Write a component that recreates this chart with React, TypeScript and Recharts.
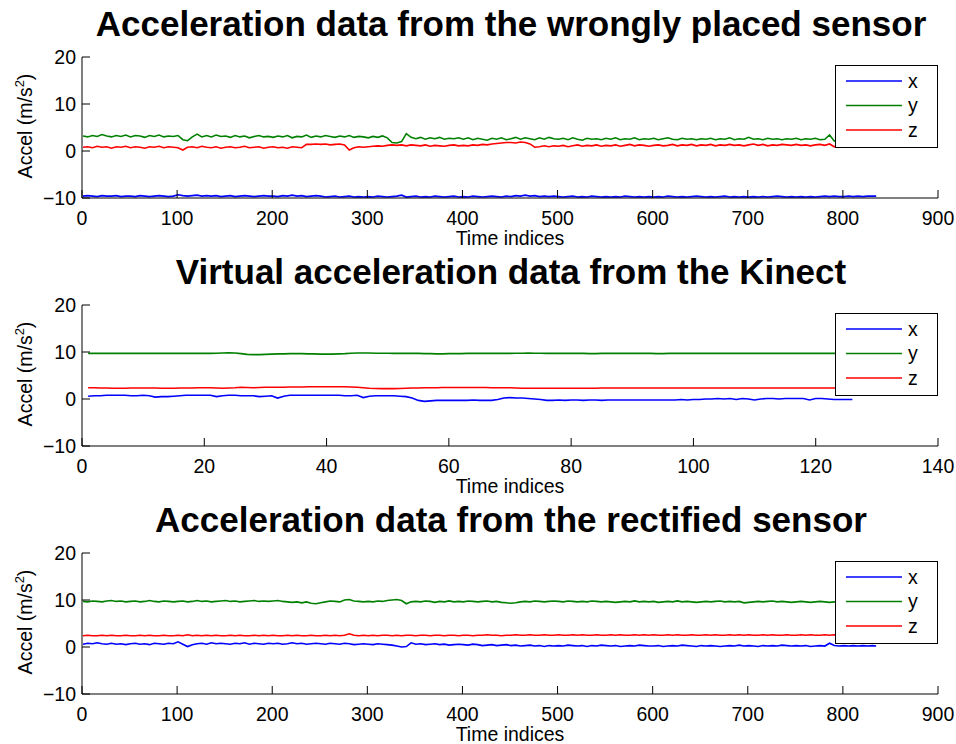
import { LineChart, Line, XAxis, YAxis, Label } from 'recharts';

// ---- panel 1: wrongly placed sensor (indices 1..831, every 5th sample) ----
const wrongX = [
    -9.6, -9.5, -9.6, -9.7, -9.5, -9.6, -9.6, -9.5, -9.7, -9.6,
    -9.6, -9.7, -9.5, -9.6, -9.7, -9.6, -9.5, -9.6, -9.7, -9.6,
    -9.3, -9.5, -9.6, -9.5, -9.4, -9.6, -9.5, -9.6, -9.5, -9.7,
    -9.6, -9.5, -9.7, -9.6, -9.5, -9.6, -9.7, -9.6, -9.5, -9.6,
    -9.6, -9.7, -9.5, -9.6, -9.4, -9.6, -9.5, -9.7, -9.6, -9.5,
    -9.6, -9.8, -9.7, -9.6, -9.8, -9.7, -9.6, -9.8, -9.7, -9.8,
    -9.7, -9.8, -9.6, -9.7, -9.8, -9.7, -9.6, -9.4, -9.8, -9.7,
    -9.6, -9.8, -9.7, -9.8, -9.6, -9.7, -9.8, -9.7, -9.6, -9.8,
    -9.7, -9.8, -9.6, -9.7, -9.8, -9.7, -9.6, -9.7, -9.8, -9.6,
    -9.7, -9.5, -9.6, -9.4, -9.6, -9.5, -9.7, -9.6, -9.7, -9.6,
    -9.7, -9.8, -9.7, -9.6, -9.8, -9.7, -9.8, -9.6, -9.7, -9.8,
    -9.7, -9.8, -9.7, -9.8, -9.6, -9.7, -9.8, -9.7, -9.8, -9.7,
    -9.8, -9.7, -9.8, -9.6, -9.7, -9.8, -9.7, -9.8, -9.7, -9.6,
    -9.7, -9.8, -9.7, -9.8, -9.7, -9.6, -9.8, -9.7, -9.8, -9.7,
    -9.8, -9.7, -9.8, -9.7, -9.8, -9.7, -9.6, -9.7, -9.8, -9.7,
    -9.8, -9.7, -9.8, -9.7, -9.8, -9.7, -9.6, -9.7, -9.6, -9.7,
    -9.7, -9.6, -9.7, -9.6, -9.7, -9.6, -9.6, -9.6,
];
const wrongY = [
    3.2, 3.0, 3.3, 3.1, 3.5, 3.2, 3.0, 3.3, 3.1, 3.4,
    3.0, 3.3, 3.2, 2.9, 3.3, 3.1, 3.4, 3.0, 3.2, 3.1,
    3.3, 2.4, 2.2, 3.0, 3.6, 3.0, 3.3, 3.0, 3.4, 3.1,
    3.2, 2.9, 3.3, 3.0, 3.2, 2.8, 3.1, 3.3, 3.0, 3.1,
    2.9, 3.2, 3.0, 3.3, 2.8, 3.1, 3.0, 3.4, 2.9, 3.2,
    3.0, 3.3, 3.1, 2.9, 3.2, 3.0, 3.3, 2.9, 3.1, 3.0,
    2.8, 3.1, 2.9, 3.2, 2.8, 1.8, 1.7, 2.0, 3.7, 2.9,
    2.6, 2.9, 2.5, 2.8, 2.6, 2.9, 2.5, 2.7, 2.6, 2.8,
    2.5, 2.8, 2.4, 2.7, 2.5, 2.3, 2.7, 2.5, 2.8, 2.4,
    2.6, 2.9, 2.5, 2.8, 2.6, 2.4, 2.8, 2.5, 2.9, 2.6,
    2.5, 2.7, 2.4, 2.8, 2.5, 2.3, 2.7, 2.5, 2.6, 2.4,
    2.7, 2.5, 2.8, 2.4, 2.6, 2.5, 2.8, 2.4, 2.6, 2.5,
    2.7, 2.4, 2.6, 2.8, 2.5, 2.4, 2.7, 2.5, 2.6, 2.4,
    2.6, 2.5, 2.7, 2.4, 2.6, 2.5, 2.8, 2.4, 2.6, 2.5,
    2.9, 2.5, 2.6, 2.4, 2.7, 2.5, 2.6, 2.4, 2.6, 2.5,
    2.7, 2.4, 2.6, 2.5, 2.7, 2.4, 2.5, 3.4, 2.1, 2.4,
    2.6, 2.3, 2.5, 2.4, 2.6, 2.6, 2.5, 2.6,
];
const wrongZ = [
    0.8, 0.9, 0.7, 1.0, 0.8, 0.9, 0.6, 0.9, 0.8, 1.0,
    0.7, 0.9, 0.8, 0.6, 0.9, 0.8, 1.0, 0.7, 0.9, 0.8,
    0.7, 0.2, 0.8, 0.9, 0.7, 1.0, 0.8, 0.7, 0.9, 0.6,
    0.8, 0.9, 0.7, 0.8, 1.0, 0.7, 0.8, 0.9, 0.6, 0.8,
    0.9, 0.7, 0.8, 0.6, 0.9, 0.8, 0.7, 1.4, 1.4, 1.5,
    1.4, 1.5, 1.3, 1.4, 1.5, 1.3, 0.2, 0.7, 0.9, 0.8,
    0.9, 1.0, 1.1, 1.0, 1.2, 1.3, 1.2, 1.3, 1.1, 1.3,
    1.2, 1.1, 1.3, 1.0, 1.2, 1.1, 1.0, 1.2, 1.3, 1.1,
    1.2, 1.1, 1.3, 1.2, 1.4, 1.3, 1.5, 1.6, 1.7, 1.8,
    1.8, 1.7, 1.9, 1.8, 1.5, 0.8, 0.9, 1.1, 0.9, 1.1,
    1.0, 1.2, 0.9, 1.1, 1.3, 1.0, 1.2, 1.1, 1.3, 1.0,
    1.2, 1.1, 1.3, 1.0, 1.2, 1.4, 1.1, 1.3, 1.2, 1.0,
    1.2, 1.3, 1.1, 1.2, 1.4, 1.1, 1.3, 1.2, 1.4, 1.1,
    1.3, 1.2, 1.4, 1.1, 1.3, 1.2, 1.4, 1.2, 1.3, 1.1,
    1.3, 1.5, 1.2, 1.4, 1.1, 1.3, 1.2, 1.4, 1.3, 1.2,
    1.4, 1.2, 1.3, 1.1, 1.3, 1.4, 1.2, 1.5, 0.9, 1.2,
    1.1, 1.3, 1.0, 1.2, 1.1, 1.2, 1.0, 1.1,
];

// ---- panel 2: Kinect (indices 1..126) ----
const kinectX = [
    0.6, 0.7, 0.7, 0.8, 0.8, 0.8, 0.8, 0.7, 0.7, 0.8,
    0.7, 0.4, 0.5, 0.5, 0.6, 0.7, 0.8, 0.8, 0.8, 0.8,
    0.8, 0.5, 0.7, 0.8, 0.8, 0.7, 0.7, 0.7, 0.5, 0.6,
    0.7, 0.2, 0.6, 0.8, 0.8, 0.8, 0.8, 0.8, 0.8, 0.8,
    0.8, 0.8, 0.7, 0.7, 0.8, 0.3, 0.6, 0.7, 0.7, 0.7,
    0.7, 0.6, 0.5, 0.2, -0.3, -0.5, -0.4, -0.3, -0.3, -0.3,
    -0.3, -0.3, -0.3, -0.2, -0.3, -0.3, -0.3, -0.1, 0.2, 0.3,
    0.2, 0.2, 0.1, 0.0, -0.1, -0.3, -0.3, -0.2, -0.3, -0.2,
    -0.2, -0.3, -0.2, -0.2, -0.3, -0.2, -0.2, -0.2, -0.2, -0.2,
    -0.2, -0.2, -0.2, -0.2, -0.2, -0.2, -0.2, -0.1, -0.2, -0.1,
    -0.1, 0.0, 0.0, 0.1, 0.0, 0.1, -0.1, 0.1, 0.0, -0.2,
    0.0, 0.1, 0.1, 0.0, 0.1, 0.1, 0.1, 0.1, -0.2, 0.1,
    0.1, 0.0, -0.1, -0.1, -0.1, -0.1,
];
const kinectY = [
    9.7, 9.7, 9.7, 9.7, 9.7, 9.7, 9.7, 9.7, 9.7, 9.7,
    9.7, 9.7, 9.7, 9.7, 9.7, 9.7, 9.7, 9.7, 9.7, 9.7,
    9.7, 9.75, 9.8, 9.85, 9.8, 9.65, 9.5, 9.45, 9.45, 9.5,
    9.55, 9.6, 9.6, 9.65, 9.65, 9.65, 9.6, 9.6, 9.55, 9.55,
    9.55, 9.6, 9.65, 9.75, 9.8, 9.8, 9.8, 9.75, 9.75, 9.75,
    9.7, 9.7, 9.7, 9.7, 9.7, 9.65, 9.65, 9.6, 9.6, 9.65,
    9.65, 9.65, 9.7, 9.7, 9.7, 9.7, 9.7, 9.7, 9.7, 9.7,
    9.75, 9.75, 9.8, 9.75, 9.75, 9.7, 9.7, 9.7, 9.7, 9.7,
    9.7, 9.7, 9.65, 9.65, 9.7, 9.7, 9.7, 9.7, 9.7, 9.7,
    9.7, 9.7, 9.7, 9.65, 9.65, 9.7, 9.7, 9.7, 9.7, 9.7,
    9.7, 9.7, 9.7, 9.7, 9.7, 9.7, 9.7, 9.7, 9.7, 9.7,
    9.7, 9.7, 9.7, 9.7, 9.7, 9.7, 9.7, 9.7, 9.7, 9.7,
    9.7, 9.7, 9.7, 9.7, 9.7, 9.7,
];
const kinectZ = [
    2.4, 2.4, 2.35, 2.35, 2.3, 2.3, 2.3, 2.35, 2.35, 2.35,
    2.35, 2.35, 2.3, 2.3, 2.3, 2.35, 2.35, 2.35, 2.4, 2.4,
    2.4, 2.35, 2.3, 2.35, 2.4, 2.5, 2.45, 2.4, 2.45, 2.5,
    2.5, 2.5, 2.5, 2.55, 2.55, 2.55, 2.6, 2.6, 2.6, 2.6,
    2.6, 2.6, 2.6, 2.55, 2.5, 2.4, 2.3, 2.25, 2.2, 2.2,
    2.2, 2.25, 2.3, 2.35, 2.35, 2.4, 2.4, 2.4, 2.45, 2.45,
    2.45, 2.45, 2.45, 2.45, 2.45, 2.45, 2.4, 2.4, 2.4, 2.4,
    2.35, 2.3, 2.3, 2.3, 2.3, 2.3, 2.3, 2.3, 2.3, 2.3,
    2.3, 2.3, 2.3, 2.3, 2.35, 2.35, 2.35, 2.35, 2.35, 2.35,
    2.35, 2.35, 2.35, 2.35, 2.35, 2.35, 2.35, 2.35, 2.35, 2.35,
    2.35, 2.35, 2.35, 2.35, 2.35, 2.35, 2.35, 2.35, 2.35, 2.35,
    2.35, 2.35, 2.35, 2.35, 2.35, 2.35, 2.35, 2.35, 2.35, 2.35,
    2.35, 2.35, 2.35, 2.35, 2.35, 2.35,
];

// ---- panel 3: rectified sensor (indices 1..836, every 5th sample) ----
const rectX = [
    0.6, 0.8, 0.7, 0.9, 0.7, 0.6, 0.8, 0.6, 0.7, 0.5,
    0.7, 0.8, 0.6, 0.7, 0.5, 0.8, 0.7, 0.6, 0.8, 0.7,
    1.1, 0.6, 0.1, 0.5, 0.7, 0.8, 0.6, 0.9, 0.7, 0.8,
    0.7, 0.6, 0.8, 0.7, 0.9, 0.6, 0.8, 0.7, 0.6, 0.8,
    0.7, 0.8, 0.6, 0.7, 0.9, 0.7, 0.8, 0.6, 0.7, 0.8,
    0.7, 0.6, 0.8, 0.7, 0.6, 0.8, 0.7, 0.5, 0.6, 0.7,
    0.6, 0.5, 0.7, 0.6, 0.5, 0.4, 0.2, 0.0, 0.1, 0.9,
    0.6, 0.7, 0.5, 0.6, 0.7, 0.5, 0.6, 0.4, 0.5, 0.6,
    0.5, 0.4, 0.6, 0.5, 0.3, 0.4, 0.5, 0.3, 0.4, 0.5,
    0.3, 0.4, 0.2, 0.3, 0.4, 0.2, 0.3, 0.1, 0.3, 0.2,
    0.3, 0.2, 0.4, 0.3, 0.2, 0.3, 0.1, 0.3, 0.2, 0.4,
    0.3, 0.2, 0.3, 0.1, 0.2, 0.3, 0.2, 0.4, 0.3, 0.2,
    0.2, 0.3, 0.1, 0.2, 0.3, 0.2, 0.4, 0.3, 0.2, 0.1,
    0.3, 0.2, 0.3, 0.2, 0.1, 0.2, 0.3, 0.2, 0.4, 0.2,
    0.3, 0.2, 0.1, 0.3, 0.2, 0.3, 0.2, 0.4, 0.3, 0.2,
    0.3, 0.2, 0.3, 0.1, 0.2, 0.3, 0.2, 0.8, 0.3, 0.2,
    0.3, 0.2, 0.3, 0.2, 0.3, 0.2, 0.3, 0.2,
];
const rectY = [
    9.7, 9.6, 9.8, 9.7, 9.6, 9.8, 9.9, 9.7, 9.8, 9.6,
    9.7, 9.8, 9.6, 9.7, 9.9, 9.7, 9.6, 9.8, 9.7, 9.6,
    9.7, 9.8, 9.6, 9.7, 9.9, 9.7, 9.8, 9.6, 9.7, 9.8,
    9.9, 9.7, 9.8, 9.6, 9.7, 9.8, 9.9, 9.7, 9.8, 9.7,
    9.8, 9.9, 9.7, 9.6, 9.5, 9.6, 9.4, 9.6, 9.3, 9.2,
    9.4, 9.6, 9.8, 9.7, 9.6, 10.0, 10.1, 9.8, 9.7, 9.6,
    9.7, 9.6, 9.8, 9.7, 9.9, 10.0, 10.1, 9.9, 9.2, 9.6,
    9.7, 9.6, 9.8, 9.7, 9.5, 9.7, 9.6, 9.8, 9.6, 9.7,
    9.6, 9.8, 9.7, 9.6, 9.7, 9.8, 9.6, 9.7, 9.5, 9.4,
    9.3, 9.4, 9.6, 9.7, 9.6, 9.8, 9.7, 9.6, 9.7, 9.8,
    9.7, 9.6, 9.8, 9.7, 9.6, 9.7, 9.6, 9.8, 9.7, 9.6,
    9.7, 9.6, 9.5, 9.6, 9.7, 9.6, 9.8, 9.6, 9.7, 9.6,
    9.7, 9.5, 9.6, 9.7, 9.6, 9.8, 9.6, 9.7, 9.6, 9.5,
    9.6, 9.7, 9.6, 9.7, 9.8, 9.6, 9.7, 9.6, 9.7, 9.4,
    9.5, 9.6, 9.7, 9.6, 9.7, 9.8, 9.6, 9.7, 9.6, 9.5,
    9.6, 9.7, 9.6, 9.5, 9.6, 9.7, 9.6, 9.5, 9.6, 9.7,
    9.6, 9.7, 9.5, 9.6, 9.7, 9.6, 9.5, 9.6,
];
const rectZ = [
    2.4, 2.5, 2.4, 2.4, 2.5, 2.4, 2.5, 2.4, 2.4, 2.5,
    2.4, 2.4, 2.5, 2.4, 2.5, 2.4, 2.4, 2.5, 2.4, 2.4,
    2.5, 2.4, 2.6, 2.4, 2.5, 2.4, 2.5, 2.4, 2.5, 2.4,
    2.4, 2.5, 2.4, 2.5, 2.4, 2.4, 2.5, 2.4, 2.5, 2.4,
    2.5, 2.4, 2.4, 2.5, 2.4, 2.5, 2.4, 2.4, 2.5, 2.4,
    2.4, 2.5, 2.4, 2.5, 2.4, 2.5, 2.8, 2.5, 2.4, 2.5,
    2.4, 2.5, 2.4, 2.5, 2.5, 2.4, 2.5, 2.4, 2.5, 2.5,
    2.4, 2.5, 2.5, 2.4, 2.5, 2.5, 2.4, 2.5, 2.5, 2.4,
    2.5, 2.5, 2.4, 2.5, 2.5, 2.6, 2.5, 2.5, 2.4, 2.5,
    2.5, 2.6, 2.5, 2.5, 2.6, 2.5, 2.5, 2.6, 2.5, 2.5,
    2.6, 2.5, 2.5, 2.6, 2.5, 2.6, 2.5, 2.5, 2.6, 2.5,
    2.5, 2.6, 2.5, 2.6, 2.5, 2.5, 2.6, 2.5, 2.6, 2.5,
    2.6, 2.5, 2.5, 2.6, 2.5, 2.6, 2.5, 2.5, 2.6, 2.5,
    2.5, 2.6, 2.5, 2.6, 2.5, 2.5, 2.6, 2.5, 2.6, 2.5,
    2.6, 2.5, 2.5, 2.6, 2.5, 2.6, 2.5, 2.5, 2.6, 2.5,
    2.5, 2.6, 2.5, 2.6, 2.5, 2.5, 2.6, 2.5, 2.6, 2.5,
    2.6, 2.5, 2.5, 2.6, 2.5, 2.6, 2.5, 2.5,
];

const longIdx = wrongX.map((_, k) => Math.min(1 + 5 * k, 835));
const kinectIdx = kinectX.map((_, k) => k + 1);

const longTicks = [0, 100, 200, 300, 400, 500, 600, 700, 800, 900];
const kinectTicks = [0, 20, 40, 60, 80, 100, 120, 140];
const yTicks = [-10, 0, 10, 20];

const series = [
    { key: 'x', color: '#0000ff' },
    { key: 'y', color: '#008000' },
    { key: 'z', color: '#ff0000' },
];

const zip = (idx: number[], x: number[], y: number[], z: number[]) =>
    idx.map((i, k) => ({ i, x: x[k], y: y[k], z: z[k] }));

const wrongData = zip(longIdx, wrongX, wrongY, wrongZ);
const kinectData = zip(kinectIdx, kinectX, kinectY, kinectZ);
const rectData = zip(longIdx, rectX, rectY, rectZ);

const FONT = '"Liberation Sans", Arial, Helvetica, sans-serif';
const FS = 19.5;

const minus = (v: number) => String(v).replace('-', '\u2212');

function Panel({ top, title, data, xMax, xTicks }: { top: number; title: string; data: any[]; xMax: number; xTicks: number[] }) {
    const tickStyle = { fill: '#000', fontSize: FS };
    return (
        <div style={{ position: 'absolute', left: 0, top, width: 956, height: 248 }}>
            <LineChart width={956} height={248} data={data} margin={{ top: 57, right: 18, bottom: 0, left: 0 }} style={{ overflow: 'visible' }}>
                <XAxis xAxisId="b" dataKey="i" type="number" domain={[0, xMax]} ticks={xTicks} interval={0}
                    height={50} tickSize={-8} tickMargin={21} tick={tickStyle} stroke="#000" allowDataOverflow>
                    <Label value="Time indices" position="insideBottom" offset={3} fill="#000" fontSize={FS} />
                </XAxis>
                <XAxis xAxisId="t" orientation="top" dataKey="i" type="number" domain={[0, xMax]} ticks={xTicks} interval={0}
                    height={0} tickSize={-8} tick={false} stroke="#000" allowDataOverflow />
                <YAxis yAxisId="l" type="number" domain={[-10, 20]} ticks={yTicks} interval={0} tickFormatter={minus}
                    width={82} tickSize={-8} tickMargin={14} tick={tickStyle} stroke="#000" allowDataOverflow />
                <YAxis yAxisId="r" orientation="right" type="number" domain={[-10, 20]} ticks={yTicks} interval={0}
                    width={0} tickSize={-8} tick={false} stroke="#000" allowDataOverflow />
                {series.map(s => (
                    <Line key={s.key} xAxisId="b" yAxisId="l" type="linear" dataKey={s.key} stroke={s.color}
                        strokeWidth={1.6} dot={false} isAnimationActive={false} />
                ))}
            </LineChart>
            <svg width={956} height={248} style={{ position: 'absolute', left: 0, top: 0, pointerEvents: 'none', overflow: 'visible' }}>
                <text x={511} y={36} textAnchor="middle" fontSize={35} fontWeight="bold" fill="#000">{title}</text>
                <text transform="translate(32,126) rotate(-90)" textAnchor="middle" fontSize={19.5} fill="#000">
                    Accel (m/s<tspan dy={-8} fontSize={13}>2</tspan><tspan dy={8}>)</tspan>
                </text>
                <g transform="translate(835,65)">
                    <rect x={0.5} y={0.5} width={102} height={82} fill="#fff" stroke="#000" />
                    {series.map((s, k) => (
                        <g key={s.key}>
                            <line x1={11} x2={67} y1={16 + k * 24.5} y2={16 + k * 24.5} stroke={s.color} strokeWidth={1.6} />
                            <text x={73} y={22.5 + k * 24.5} fontSize={FS} fill="#000">{s.key}</text>
                        </g>
                    ))}
                </g>
            </svg>
        </div>
    );
}

export default function App() {
    return (
        <div style={{ position: 'absolute', left: 0, top: 0, width: 956, height: 744, background: '#fff', fontFamily: FONT }}>
            <Panel top={0} title="Acceleration data from the wrongly placed sensor" data={wrongData} xMax={900} xTicks={longTicks} />
            <Panel top={248} title="Virtual acceleration data from the Kinect" data={kinectData} xMax={140} xTicks={kinectTicks} />
            <Panel top={496} title="Acceleration data from the rectified sensor" data={rectData} xMax={900} xTicks={longTicks} />
        </div>
    );
}
